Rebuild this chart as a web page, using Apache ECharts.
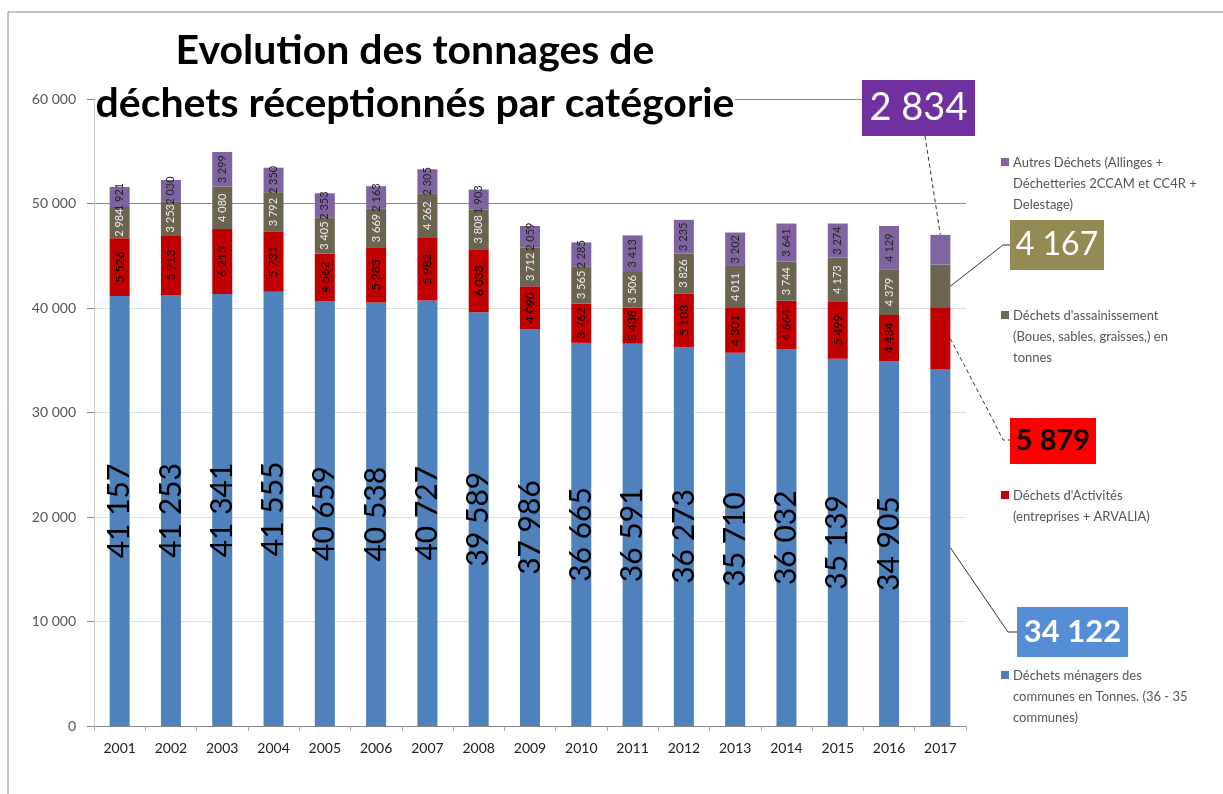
<!DOCTYPE html>
<html>
<head>
<meta charset="utf-8">
<script src="https://cdn.jsdelivr.net/npm/echarts@6/dist/echarts.min.js"></script>
<style>
  html, body { margin: 0; padding: 0; background: #fff; }
  #chart { width: 1223px; height: 794px; }
</style>
</head>
<body>
<div id="chart"></div>
<script>
// années
var years = ['2001', '2002', '2003', '2004', '2005', '2006', '2007', '2008', '2009',
  '2010', '2011', '2012', '2013', '2014', '2015', '2016', '2017'];
// tonnages par catégorie
var menagers = [41157, 41253, 41341, 41555, 40659, 40538, 40727, 39589, 37986,
  36665, 36591, 36273, 35710, 36032, 35139, 34905, 34122];
var activites = [5526, 5713, 6213, 5731, 4562, 5283, 5982, 6033, 4090,
  3762, 3438, 5103, 4301, 4664, 5499, 4434, 5879];
var assainissement = [2984, 3253, 4080, 3792, 3405, 3669, 4262, 3808, 3712,
  3565, 3506, 3826, 4011, 3744, 4173, 4379, 4167];
var autres = [1921, 2030, 3299, 2350, 2353, 2163, 2305, 1903, 2059,
  2285, 3413, 3235, 3202, 3641, 3274, 4129, 2834];

var names = [
  'Déchets ménagers des\ncommunes en Tonnes. (36 - 35\ncommunes)',
  "Déchets d'Activités\n(entreprises + ARVALIA)",
  "Déchets d'assainissement\n(Boues, sables, graisses,) en\ntonnes",
  'Autres Déchets (Allinges +\nDéchetteries 2CCAM et CC4R +\nDelestage)'
];
var colors = ['#4f81bd', '#c00000', '#6b6450', '#8064a2'];
var FONT = 'Lato, "Open Sans", sans-serif';

function fmt(v) {
  return String(v).replace(/\B(?=(\d{3})+(?!\d))/g, ' ');
}
var last = years.length - 1;

function serie(i, data, size, color) {
  return {
    name: names[i],
    type: 'bar',
    stack: 'total',
    barWidth: 20,
    data: data,
    itemStyle: { color: colors[i] },
    label: {
      show: true,
      position: 'inside',
      rotate: 90,
      fontFamily: FONT,
      fontSize: size,
      color: color,
      formatter: function (p) {
        return p.dataIndex === last ? '' : fmt(p.value);
      }
    }
  };
}

var myChart = echarts.init(document.getElementById('chart'));
myChart.setOption({
  animation: false,
  grid: { left: 94, right: 257, top: 99, bottom: 68 },
  xAxis: {
    type: 'category',
    data: years,
    axisLine: { lineStyle: { color: '#888' } },
    axisTick: { show: true, length: 5, lineStyle: { color: '#aaa' } },
    axisLabel: { color: '#222', fontFamily: FONT, fontSize: 14, margin: 15 }
  },
  yAxis: {
    type: 'value',
    min: 0,
    max: 60000,
    interval: 10000,
    axisLine: { show: true, lineStyle: { color: '#ccc' } },
    axisTick: { show: true, inside: false, length: 7, lineStyle: { color: '#888' } },
    axisLabel: {
      color: '#555', fontFamily: FONT, fontSize: 14, margin: 18,
      formatter: function (v) { return fmt(v); }
    },
    splitLine: {
      lineStyle: { color: ['#ddd', '#ddd', '#ddd', '#ddd', '#ddd', '#888', '#888'] }
    }
  },
  series: [
    serie(0, menagers, 30, '#000'),
    serie(1, activites, 12, '#000'),
    serie(2, assainissement, 11, '#eee'),
    serie(3, autres, 11, '#222')
  ]
});

// points sur la barre 2017
function px(v) {
  return myChart.convertToPixel({ xAxisIndex: 0, yAxisIndex: 0 }, [last, v]);
}
var b = menagers[last];
var r = b + activites[last];
var o = r + assainissement[last];
var t = o + autres[last];
var cx = px(0)[0];
var edge = cx + 10;

function box(x, y, w, h, fill, text, textColor, size, weight) {
  return [
    { type: 'rect', z: 10, shape: { x: x, y: y, width: w, height: h }, style: { fill: fill } },
    {
      type: 'text', z: 11, x: x + w / 2, y: y + h / 2,
      style: {
        text: text, fill: textColor, align: 'center', verticalAlign: 'middle',
        font: weight + ' ' + size + 'px ' + FONT
      }
    }
  ];
}
function line(points, dashed) {
  return {
    type: 'polyline', z: 9,
    shape: { points: points },
    style: { stroke: '#333', lineWidth: 1, lineDash: dashed ? [4, 3] : null, fill: null }
  };
}
function legendItem(y, i) {
  return [
    { type: 'rect', shape: { x: 1001, y: y - 4, width: 8, height: 8 }, style: { fill: colors[i] } },
    {
      type: 'text', x: 1013, y: y - 10,
      style: { text: names[i], fill: '#555', font: '13px ' + FONT, lineHeight: 21 }
    }
  ];
}

var g = [
  // cadre
  { type: 'rect', shape: { x: 8, y: 12, width: 1230, height: 800 }, style: { fill: null, stroke: '#888', lineWidth: 1 } },
  // titre
  {
    type: 'text', z: 8, x: 415, y: 24,
    style: {
      text: 'Evolution des tonnages de\ndéchets réceptionnés par catégorie',
      align: 'center', fill: '#000', font: 'bold 41px ' + FONT, lineHeight: 53,
      backgroundColor: '#fff'
    }
  },
  line([[925, 136], [cx, px(t)[1]]], true),
  line([[edge, px((r + o) / 2)[1]], [1003, 245], [1010, 245]], false),
  line([[edge, px((b + r) / 2)[1]], [993, 420], [1003, 440], [1010, 440]], true),
  line([[edge, px(b / 2)[1]], [1008, 632], [1017, 632]], false)
];
g = g.concat(
  box(862, 80, 113, 56, '#7030a0', fmt(autres[last]), '#fff', 38, 'normal'),
  box(1010, 220, 94, 50, '#948a54', fmt(assainissement[last]), '#fff', 32, 'normal'),
  box(1010, 418, 86, 46, '#ff0000', fmt(activites[last]), '#000', 29, 'bold'),
  box(1017, 607, 111, 50, '#558ed5', fmt(menagers[last]), '#fff', 31, 'bold'),
  legendItem(162, 3),
  legendItem(315, 2),
  legendItem(495, 1),
  legendItem(675, 0)
);
myChart.setOption({ graphic: g });
</script>
</body>
</html>
